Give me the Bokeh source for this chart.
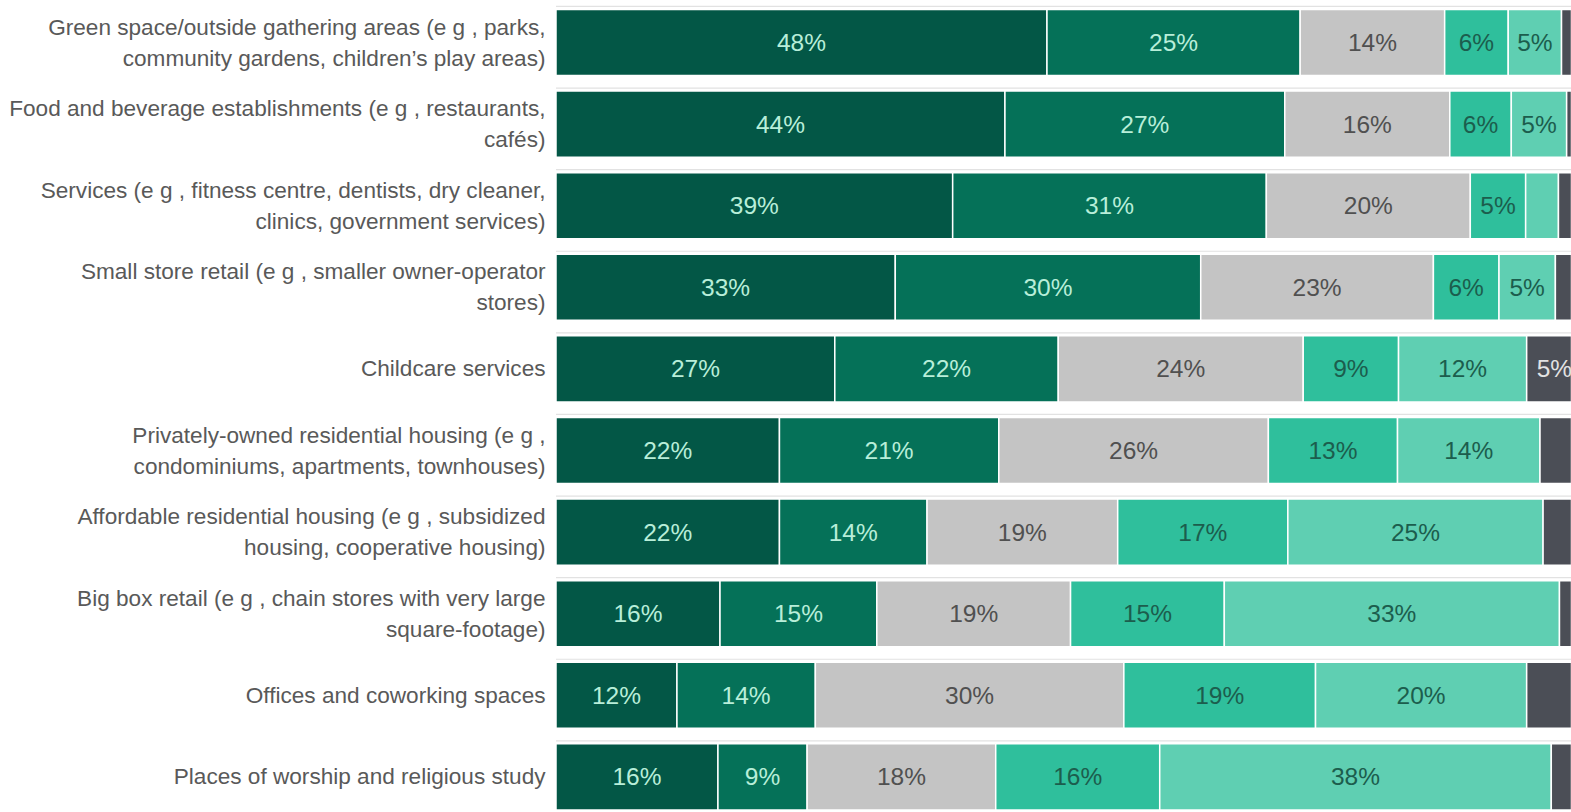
from bokeh.plotting import figure
from bokeh.models import ColumnDataSource, Range1d
from bokeh.embed import file_html
from bokeh.resources import INLINE
from bokeh.core.properties import value
import numpy as np

# ---- data ----
label_line1 = [
    "Green space/outside gathering areas (e g , parks,",
    "Food and beverage establishments (e g , restaurants,",
    "Services (e g , fitness centre, dentists, dry cleaner,",
    "Small store retail (e g , smaller owner-operator",
    "Childcare services",
    "Privately-owned residential housing (e g ,",
    "Affordable residential housing (e g , subsidized",
    "Big box retail (e g , chain stores with very large",
    "Offices and coworking spaces",
    "Places of worship and religious study",
]
label_line2 = [
    "community gardens, children\u2019s play areas)",
    "caf\u00e9s)",
    "clinics, government services)",
    "stores)",
    "",
    "condominiums, apartments, townhouses)",
    "housing, cooperative housing)",
    "square-footage)",
    "",
    "",
]

series_names = ["Strongly support", "Somewhat support", "Neutral",
                "Somewhat oppose", "Strongly oppose", "Don't know"]
strongly_support = [47.9, 43.8, 38.7, 33.1, 27.2, 21.8, 21.8, 16.0, 11.8, 15.8]
somewhat_support = [24.7, 27.3, 30.6, 29.8, 21.8, 21.4, 14.4, 15.3, 13.5, 8.7]
neutral          = [14.1, 16.1, 19.9, 22.7, 23.9, 26.3, 18.6, 18.9, 30.1, 18.4]
somewhat_oppose  = [6.2, 6.0, 5.4, 6.4, 9.3, 12.6, 16.6, 15.0, 18.7, 16.0]
strongly_oppose  = [5.2, 5.4, 3.2, 5.5, 12.5, 13.9, 24.9, 32.7, 20.6, 38.2]
dont_know        = [2.0, 1.4, 2.2, 2.5, 5.4, 4.1, 3.7, 2.1, 5.3, 2.9]

strongly_support_labels = ["48%", "44%", "39%", "33%", "27%", "22%", "22%", "16%", "12%", "16%"]
somewhat_support_labels = ["25%", "27%", "31%", "30%", "22%", "21%", "14%", "15%", "14%", "9%"]
neutral_labels          = ["14%", "16%", "20%", "23%", "24%", "26%", "19%", "19%", "30%", "18%"]
somewhat_oppose_labels  = ["6%", "6%", "5%", "6%", "9%", "13%", "17%", "15%", "19%", "16%"]
strongly_oppose_labels  = ["5%", "5%", "", "5%", "12%", "14%", "25%", "33%", "20%", "38%"]
dont_know_labels        = ["", "", "", "", "5%", "", "", "", "", ""]

series_values = [strongly_support, somewhat_support, neutral,
                 somewhat_oppose, strongly_oppose, dont_know]
series_labels = [strongly_support_labels, somewhat_support_labels, neutral_labels,
                 somewhat_oppose_labels, strongly_oppose_labels, dont_know_labels]

colors = ["#035746", "#057158", "#c4c4c4", "#2fbf9c", "#5fcfb2", "#4b4e56"]
text_colors = ["#b8eed9", "#b8eed9", "#505050", "#1c5d4d", "#1c5d4d", "#e2e2e2"]

# ---- figure ----
PX_PER_PCT = 10.25
ORIGIN_PX = 555.5
ROW0_PX = 42.0
ROW_PITCH = 81.6
W, H = 1571, 812

p = figure(width=W, height=H, output_backend="svg", toolbar_location=None,
           min_border=0, min_border_left=0, min_border_right=0,
           min_border_top=0, min_border_bottom=0,
           x_range=Range1d((0 - ORIGIN_PX) / PX_PER_PCT, (W - ORIGIN_PX) / PX_PER_PCT),
           y_range=Range1d((H - ROW0_PX) / ROW_PITCH, (0 - ROW0_PX) / ROW_PITCH))
p.axis.visible = False
p.xgrid.visible = False
p.ygrid.visible = False
p.outline_line_color = None
p.background_fill_color = "white"
p.border_fill_color = "white"

rows = np.arange(len(label_line1))
bar_h = 0.81

# faint rules just above each bar
p.segment(x0=np.zeros(len(rows)), x1=np.full(len(rows), 100.0),
          y0=rows - bar_h / 2 - 3 / ROW_PITCH, y1=rows - bar_h / 2 - 3 / ROW_PITCH,
          line_color="#e2e2e2", line_width=1.2)

left = np.zeros(len(rows))
for vals, labs, col, tcol, name in zip(series_values, series_labels, colors, text_colors, series_names):
    vals = np.array(vals)
    right = left + vals
    src = ColumnDataSource(dict(y=rows, left=left, right=right,
                                mid=(left + right) / 2, lab=labs))
    p.hbar(y="y", left="left", right="right", height=bar_h, source=src,
           fill_color=col, line_color="white", line_width=1.5)
    p.text(x="mid", y="y", text="lab", source=src, text_align="center",
           text_baseline="middle", text_color=tcol, text_font_size="24.5px",
           text_font=value("Liberation Sans"))
    left = right

# category labels
lab_x = (545 - ORIGIN_PX) / PX_PER_PCT
off = 15.5 / ROW_PITCH
y1 = [r - off if l2 else r for r, l2 in zip(rows, label_line2)]
y2 = [r + off for r in rows]
p.text(x=[lab_x] * len(rows), y=y1, text=label_line1, text_align="right",
       text_baseline="middle", text_color="#595959", text_font_size="22.6px",
       text_font=value("Liberation Sans"))
p.text(x=[lab_x] * len(rows), y=y2, text=label_line2, text_align="right",
       text_baseline="middle", text_color="#595959", text_font_size="22.6px",
       text_font=value("Liberation Sans"))

open("out.html", "w").write(file_html(p, INLINE))
